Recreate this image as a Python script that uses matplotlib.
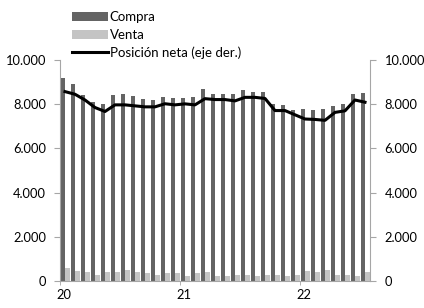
import matplotlib
matplotlib.use("Agg")
import matplotlib.pyplot as plt
import numpy as np

plt.rcParams['font.family'] = ['Lato', 'DejaVu Sans']

# Monthly data, Jan 2020 - Jul 2022
compra = [9200, 8910, 8420, 8090, 8010, 8420, 8465, 8360, 8250, 8210,
          8340, 8300, 8300, 8340, 8680, 8460, 8460, 8460, 8630, 8570,
          8570, 8015, 7955, 7730, 7790, 7730, 7790, 7900, 8015, 8470, 8520]
venta = [570, 470, 410, 290, 405, 405, 510, 405, 350, 290,
         350, 350, 245, 350, 405, 245, 245, 285, 285, 245,
         285, 285, 245, 285, 470, 405, 510, 290, 290, 245, 405]
neta = [8570, 8450, 8190, 7850, 7670, 7970, 7970, 7925, 7880, 7880,
        8020, 7970, 8015, 7970, 8250, 8210, 8210, 8150, 8310, 8310,
        8260, 7712, 7712, 7520, 7330, 7310, 7270, 7630, 7700, 8190, 8090]
year_labels = ["20", "21", "22"]
y_ticks = [0, 2000, 4000, 6000, 8000, 10000]
y_labels = ["0", "2.000", "4.000", "6.000", "8.000", "10.000"]

dark = "#646464"
light = "#c4c4c4"
spine = "#a6a6a6"

fig = plt.figure(figsize=(4.24, 3.08), dpi=100)
ax = fig.add_axes([60/424, 1-281/308, 310/424, 221/308])
ax2 = ax.twinx()

x = np.arange(len(compra))
b1 = ax.bar(x + 0.3, compra, width=0.4, color=dark, label="Compra")
b2 = ax.bar(x + 0.725, venta, width=0.45, color=light, label="Venta")
l1, = ax2.plot(x + 0.5, neta, color="black", lw=2.2, label="Posición neta (eje der.)")

for a in (ax, ax2):
    a.set_ylim(0, 10000)
    a.set_yticks(y_ticks)
    a.set_yticklabels(y_labels)
    a.set_xlim(0, len(compra))
    for s in a.spines.values():
        s.set_color(spine)
    a.spines['top'].set_visible(False)
    a.tick_params(axis='y', length=4, color=spine, labelsize=9.3, pad=6)
ax2.tick_params(axis='y', pad=6.5)

ax.spines['right'].set_visible(False)
ax2.spines['left'].set_visible(False)
ax2.spines['bottom'].set_visible(False)

ax.set_xticks([0, 12, 24], minor=True)
ax.set_xticks([0.4, 12.4, 24.4])
ax.set_xticklabels(year_labels)
ax.tick_params(axis='x', which='major', length=0, labelsize=9.3, pad=6)
ax.tick_params(axis='x', which='minor', length=3, color=spine)

fig.legend([b1, b2, l1], ["Compra", "Venta", "Posición neta (eje der.)"],
           loc='upper left', bbox_to_anchor=(61/424, 1.0), frameon=False,
           fontsize=9.5, handlelength=2.7, handletextpad=0.15,
           labelspacing=0.42, borderaxespad=0.45)

fig.savefig("out.png", dpi=100)
